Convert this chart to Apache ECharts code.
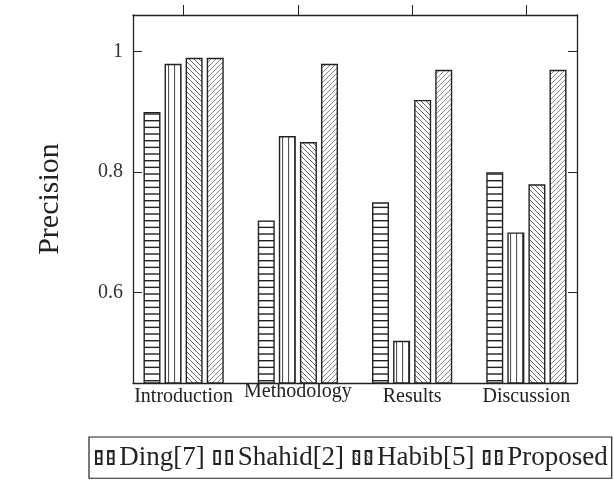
<!DOCTYPE html>
<title>precision</title>
<style>
body {
    margin: 0;
}
#echart {
    height: 481px;
    width: 614px;
}
</style>
<div id='echart'></div>
<script src='https://cdn.jsdelivr.net/npm/echarts@6/dist/echarts.min.js'></script>
<script>
let categories = ['Introduction', 'Methodology', 'Results', 'Discussion']
let ding = [0.90, 0.72, 0.75, 0.80]
let shahid = [0.98, 0.86, 0.52, 0.70]
let habib = [0.99, 0.85, 0.92, 0.78]
let proposed = [0.99, 0.98, 0.97, 0.97]
let y_ticks = [0.6, 0.8, 1]
let FONT = 'Liberation Serif'
let INK = '#222'

function hatch(width, height, draw) {
    let canvas = document.createElement('canvas')
    canvas.width = width
    canvas.height = height
    let ctx = canvas.getContext('2d')
    ctx.fillStyle = '#fff'
    ctx.fillRect(0, 0, width, height)
    draw(ctx)
    return {image: canvas, repeat: 'repeat'}
}
let horizontal = hatch(4, 20, function (ctx) {
    ctx.fillStyle = INK
    for (let y of [0, 6.67, 13.33]) ctx.fillRect(0, y, 4, 1.4)
})
let vertical = hatch(6, 4, function (ctx) {
    ctx.fillStyle = '#555'
    ctx.fillRect(0, 0, 1.1, 4)
})
function diagonal(color, flip) {
    return hatch(5, 5, function (ctx) {
        ctx.strokeStyle = color
        ctx.lineWidth = 1
        for (let k = -1; k <= 1; k++) {
            ctx.beginPath()
            if (flip) {
                ctx.moveTo(k * 5, 0)
                ctx.lineTo(k * 5 + 5, 5)
            } else {
                ctx.moveTo(k * 5, 5)
                ctx.lineTo(k * 5 + 5, 0)
            }
            ctx.stroke()
        }
    })
}
let north_west = diagonal('#666', true)
let north_east = diagonal('#888', false)

let echart = echarts.init(document.querySelector('#echart'))
let series_defaults = {
    type: 'bar',
    barWidth: 17,
    barGap: '24%',
    emphasis: {disabled: true},
}
function bars(name, values, color) {
    return {
        ...series_defaults,
        name,
        data: values.map((v, i) => [i, v]),
        itemStyle: {color, borderColor: INK, borderWidth: 1.4},
    }
}
let x_common = {type: 'value', min: -0.443, max: 3.443, splitLine: {show: false},
    axisLine: {onZero: false, lineStyle: {color: INK, width: 1.3}}}
let y_common = {type: 'value', min: 0.45, max: 1.061, splitLine: {show: false},
    axisLine: {show: true, onZero: false, lineStyle: {color: INK, width: 1.3}},
    axisTick: {inside: true, length: 9, customValues: y_ticks, lineStyle: {color: INK, width: 1}}}
let option = {
    animation: false,
    grid: {left: 133, right: 37, top: 15, bottom: 98},
    xAxis: [
        {...x_common, position: 'bottom', axisTick: {show: false},
            axisLabel: {customValues: [0, 1, 2, 3], margin: 3, fontFamily: FONT, fontSize: 20, color: INK,
                formatter: v => v == 1 ? `{m|${categories[v]}}` : `{a|${categories[v]}}`,
                rich: {a: {fontFamily: FONT, fontSize: 20, lineHeight: 22}, m: {fontFamily: FONT, fontSize: 20, lineHeight: 12}}}},
        {...x_common, position: 'top', axisLabel: {show: false},
            axisTick: {customValues: [0, 1, 2, 3], length: 10, lineStyle: {color: INK, width: 1}}},
    ],
    yAxis: [
        {...y_common, position: 'left', name: 'Precision', nameLocation: 'middle', nameGap: 60,
            nameTextStyle: {fontFamily: FONT, fontSize: 30, color: INK},
            axisLabel: {customValues: y_ticks, margin: 10, fontFamily: FONT, fontSize: 20, color: '#333',
                formatter: v => String(+v.toFixed(1))}},
        {...y_common, position: 'right', axisLabel: {show: false}},
    ],
    legend: {
        left: 89, top: 437,
        padding: [0, 4, 0, 6],
        borderColor: INK, borderWidth: 1.2,
        itemWidth: 19, itemHeight: 13, itemGap: 8.5,
        icon: 'path://M0,0h6v14h-6zM13,0h6v14h-6z',
        formatter: '{t|{name}}',
        textStyle: {fontFamily: FONT, fontSize: 27, color: INK,
            rich: {t: {fontFamily: FONT, fontSize: 27, lineHeight: 28, color: INK}}},
    },
    series: [
        bars('Ding[7]', ding, horizontal),
        bars('Shahid[2]', shahid, vertical),
        bars('Habib[5]', habib, north_west),
        bars('Proposed', proposed, north_east),
    ],
}
echart.setOption(option)
</script>
